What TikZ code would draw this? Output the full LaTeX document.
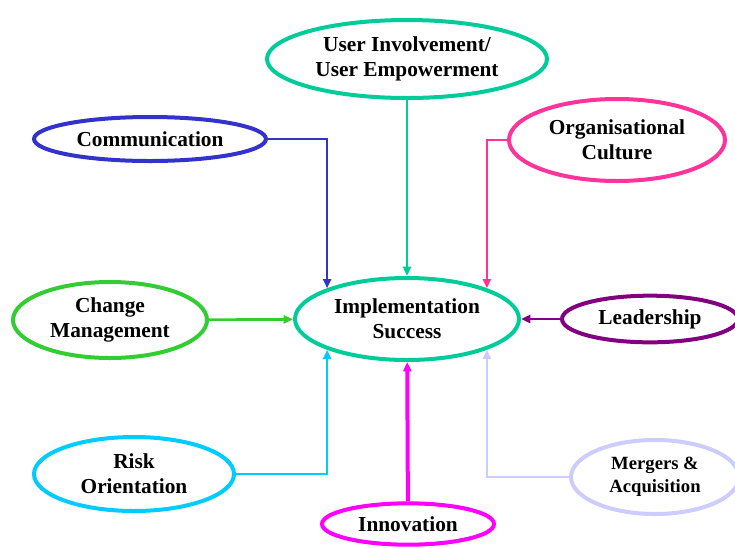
\documentclass[tikz,border=0pt]{standalone}
\usepackage{fontspec}
\setmainfont{Liberation Serif}
\usetikzlibrary{arrows.meta,shapes.geometric}

\definecolor{tealg}{RGB}{0,204,153}
\definecolor{commblue}{RGB}{51,51,204}
\definecolor{orgpink}{RGB}{255,51,153}
\definecolor{chgreen}{RGB}{51,204,51}
\definecolor{leadpurple}{RGB}{128,0,128}
\definecolor{riskcyan}{RGB}{0,204,255}
\definecolor{innomag}{RGB}{255,0,255}
\definecolor{mergelav}{RGB}{204,204,255}

\tikzset{
  factor/.style={ellipse, draw=#1, line width=3pt, fill=white, inner sep=0pt,
    align=center, font=\bfseries\fontsize{16}{19}\selectfont},
  link/.style={draw=#1, line width=2pt, -{Triangle[length=7pt,width=6pt]}},
}

\begin{document}
\begin{tikzpicture}[x=0.75pt,y=-0.75pt]
\useasboundingbox (0,0) rectangle (735,547);

% центральный узел
\node[factor=tealg, minimum width=168pt, minimum height=61.5pt] (impl) at (407,319)
  {Implementation\\Success};

% факторы сверху
\node[factor=tealg, minimum width=210pt, minimum height=58.5pt] (user) at (407,59)
  {User Involvement/\\User Empowerment};
\node[factor=commblue, minimum width=174pt, minimum height=33pt] (comm) at (150,139)
  {Communication};
\node[factor=orgpink, minimum width=162pt, minimum height=61.5pt] (org) at (617,140)
  {Organisational\\Culture};

% факторы по бокам
\node[factor=chgreen, minimum width=145.5pt, minimum height=57pt] (change) at (110,320)
  {Change\\Management};
\node[factor=leadpurple, minimum width=132pt, minimum height=35pt] (lead) at (650,319)
  {Leadership};

% факторы снизу
\node[factor=riskcyan, minimum width=150pt, minimum height=55.5pt] (risk) at (134,474)
  {Risk\\Orientation};
\node[factor=innomag, minimum width=129pt, minimum height=31pt] (innov) at (408,524)
  {Innovation};
\node[factor=mergelav, font=\bfseries\fontsize{14}{17}\selectfont,
  minimum width=126pt, minimum height=55.5pt] (merge) at (655,477)
  {Mergers \&\\Acquisition};

% связи
\draw[link=tealg] (user) -- (impl);
\draw[link=commblue] (comm.east) -| (impl.159);
\draw[link=orgpink] (org.west) -| (impl.21);
\draw[link=chgreen] (change) -- (impl);
\draw[link=leadpurple] (lead) -- (impl);
\draw[link=riskcyan] (risk.east) -| (impl.-159);
\draw[link=innomag, line width=3pt] (innov) -- (impl);
\draw[link=mergelav] (merge.west) -| (impl.-21);
\end{tikzpicture}
\end{document}
